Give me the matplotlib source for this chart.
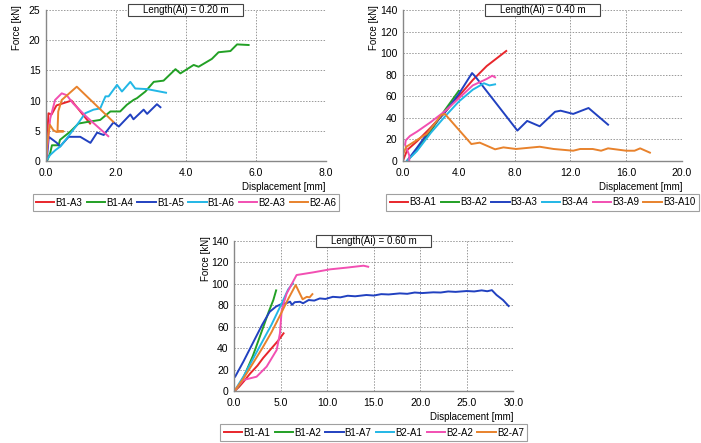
"""
Force-displacement curves for three anchor lengths
"""

import matplotlib.pyplot as plt
from matplotlib.patches import Rectangle

plt.rcParams['font.family'] = ['Liberation Sans', 'DejaVu Sans']

colors = ['#e8262b', '#22a025', '#2141c0', '#22b7e6', '#f24fb2', '#e8822c']

# ---- Length(Ai) = 0.20 m ----
a_names = ['B1-A3', 'B1-A4', 'B1-A5', 'B1-A6', 'B2-A3', 'B2-A6']
a_x = [
    [0.0, 0.07, 0.16, 0.30, 0.73, 1.26],
    [0.03, 0.12, 0.17, 0.36, 0.40, 0.70, 0.93, 1.22, 1.55, 1.84, 2.12, 2.31, 2.50, 2.60, 2.84,
     3.08, 3.36, 3.70, 3.84, 4.22, 4.36, 4.74, 4.93, 5.27, 5.46, 5.79],
    [0.02, 0.08, 0.31, 0.40, 0.65, 0.98, 1.27, 1.46, 1.65, 1.93, 2.08, 2.41, 2.50, 2.79, 2.89,
     3.17, 3.27],
    [0.0, 0.12, 0.27, 0.41, 0.60, 0.89, 1.12, 1.36, 1.55, 1.70, 1.79, 2.03, 2.17, 2.41, 2.55,
     2.89, 3.43],
    [0.0, 0.12, 0.26, 0.45, 0.59, 0.78, 1.16, 1.78],
    [0.0, 0.04, 0.11, 0.21, 0.30, 0.50, 0.33, 0.35, 0.45, 0.88, 1.92],
]
a_y = [
    [0.0, 7.9, 7.7, 9.2, 10.0, 6.2],
    [0.0, 1.3, 2.6, 2.6, 3.5, 4.9, 6.2, 6.5, 6.8, 8.2, 8.2, 9.3, 10.1, 10.4, 11.5,
     13.1, 13.3, 15.2, 14.5, 15.9, 15.6, 16.9, 18.0, 18.2, 19.3, 19.2],
    [0.0, 4.0, 3.0, 2.4, 4.0, 4.0, 3.0, 4.7, 4.3, 6.4, 5.7, 7.7, 6.9, 8.5, 7.8,
     9.4, 8.9],
    [0.0, 1.0, 1.8, 2.4, 3.8, 6.0, 7.9, 8.5, 8.7, 10.7, 10.7, 12.6, 11.5, 13.1, 12.0,
     11.9, 11.3],
    [0.0, 7.0, 10.1, 11.2, 10.9, 9.5, 7.3, 4.1],
    [0.0, 3.2, 6.0, 5.1, 4.8, 4.9, 5.0, 8.2, 10.1, 12.3, 6.5],
]

# ---- Length(Ai) = 0.40 m ----
b_names = ['B3-A1', 'B3-A2', 'B3-A3', 'B3-A4', 'B3-A9', 'B3-A10']
b_x = [
    [0.0, 0.3, 1.0, 2.0, 3.0, 4.0, 5.0, 6.0, 7.4],
    [0.3, 1.0, 2.0, 3.0, 4.0],
    [0.3, 1.0, 2.0, 3.0, 4.0, 4.95, 5.2, 8.2, 8.9, 9.8, 10.9, 11.3, 12.2, 13.3, 14.7],
    [0.3, 1.0, 2.0, 3.0, 4.0, 5.0, 5.8, 6.2, 6.6],
    [0.45, 0.45, 0.15, 0.2, 0.5, 1.0, 2.0, 3.0, 4.0, 5.0, 6.0, 6.4, 6.6],
    [0.0, 0.24, 1.7, 2.75, 3.0, 4.9, 5.5, 6.6, 7.2, 8.1, 9.8, 10.8, 12.2, 12.7, 13.6,
     14.2, 14.7, 16.0, 16.6, 17.0, 17.7],
]
b_y = [
    [0.0, 10.0, 18.0, 31.0, 45.0, 60.0, 75.0, 88.0, 102.0],
    [0.0, 10.0, 28.0, 47.0, 65.0],
    [0.0, 12.0, 30.0, 45.0, 62.0, 81.5, 78.0, 28.0, 37.0, 32.0, 45.5, 46.5, 43.5, 49.0, 33.5],
    [0.0, 9.0, 26.0, 41.0, 55.0, 66.0, 72.0, 70.0, 71.0],
    [0.0, 5.0, 15.0, 19.0, 23.0, 27.0, 36.0, 46.0, 58.0, 70.0, 76.0, 79.0, 77.5],
    [6.0, 13.0, 25.0, 42.5, 43.5, 15.5, 16.8, 10.6, 12.4, 10.9, 13.0, 10.9, 9.3, 10.9, 10.9,
     9.3, 11.5, 9.3, 9.3, 11.5, 7.5],
]

# ---- Length(Ai) = 0.60 m ----
c_names = ['B1-A1', 'B1-A2', 'B1-A7', 'B2-A1', 'B2-A2', 'B2-A7']
c_x = [
    [0.0, 0.5, 1.0, 1.7, 2.5, 3.1, 4.0, 4.7, 5.3],
    [0.0, 0.5, 1.0, 2.0, 3.0, 3.7, 4.2, 4.5],
    [0.1, 1.0, 2.0, 3.0, 3.8, 4.5, 5.0, 5.6, 6.0, 6.2, 6.5, 7.06, 7.4, 8.0, 8.6, 9.2, 9.8,
     10.6, 11.4, 12.2, 13.0, 14.2, 15.0, 15.8, 16.6, 17.8, 18.6, 19.4, 20.2, 21.4, 22.2,
     23.0, 23.8, 25.0, 25.8, 26.6, 27.2, 27.7, 28.2, 28.9, 29.5],
    [0.0, 1.0, 2.0, 3.0, 4.0, 5.0, 5.8, 6.3],
    [0.0, 0.97, 2.4, 3.48, 4.56, 4.91, 5.1, 5.63, 6.7, 8.5, 10.3, 12.1, 13.9, 14.4],
    [0.0, 1.0, 2.0, 3.0, 4.0, 5.0, 5.8, 6.6, 7.35, 7.8, 8.1, 8.4],
]
c_y = [
    [0.0, 4.0, 9.0, 16.5, 24.0, 31.0, 40.0, 47.0, 54.0],
    [0.0, 5.0, 13.0, 33.0, 57.0, 74.0, 85.0, 94.0],
    [13.7, 28.0, 45.0, 62.0, 74.0, 79.0, 81.0, 82.0, 83.5, 80.5, 83.0, 83.4, 82.0, 85.0, 84.5,
     86.5, 86.0, 88.0, 87.5, 89.0, 88.5, 89.7, 89.2, 90.5, 90.2, 91.2, 90.8, 92.0, 91.5,
     92.2, 92.0, 93.0, 92.6, 93.4, 93.0, 94.0, 93.2, 94.2, 89.7, 85.0, 79.4],
    [0.0, 14.0, 30.0, 46.0, 62.0, 80.0, 95.0, 100.5],
    [0.0, 10.5, 13.6, 23.0, 38.5, 54.0, 75.7, 91.0, 108.3, 110.8, 113.6, 115.2, 117.0, 116.0],
    [0.0, 12.0, 26.0, 40.0, 55.0, 72.0, 86.0, 99.0, 85.7, 88.0, 87.5, 90.5],
]

panels = [
    ([0.0656, 0.6366, 0.3994, 0.3409], a_names, a_x, a_y, 'Length(Ai) = 0.20 m',
     (0, 8), [0, 2, 4, 6, 8], (0, 25), [0, 5, 10, 15, 20, 25]),
    ([0.5749, 0.6372, 0.3980, 0.3400], b_names, b_x, b_y, 'Length(Ai) = 0.40 m',
     (0, 20), [0, 4, 8, 12, 16, 20], (0, 140), list(range(0, 141, 20))),
    ([0.3342, 0.1167, 0.3980, 0.3393], c_names, c_x, c_y, 'Length(Ai) = 0.60 m',
     (0, 30), [0, 5, 10, 15, 20, 25, 30], (0, 140), list(range(0, 141, 20))),
]

fs = 7

fig = plt.figure(figsize=(7.01, 4.43), dpi=100)

for rect, names, xs, ys, title, xlim, xticks, ylim, yticks in panels:
    ax = fig.add_axes(rect)
    for name, x, y, c in zip(names, xs, ys, colors):
        ax.plot(x, y, color=c, lw=1.4, label=name)
    ax.set_xlim(*xlim)
    ax.set_ylim(*ylim)
    ax.set_xticks(xticks)
    ax.set_xticklabels([f'{t:.1f}' for t in xticks])
    ax.set_yticks(yticks)
    ax.tick_params(labelsize=7.5, length=0)
    ax.tick_params(axis='x', pad=5)
    ax.tick_params(axis='y', pad=4)
    ax.grid(True, color='#999999', ls=(0, (1.5, 1.5)), lw=0.7)
    for s in ['top', 'right']:
        ax.spines[s].set_visible(False)
    for s in ['left', 'bottom']:
        ax.spines[s].set_color('#888888')
        ax.spines[s].set_linewidth(1.0)
    ax.set_xlabel('Displacement [mm]', fontsize=fs, loc='right', labelpad=3)
    ax.set_ylabel('Force [kN]', fontsize=fs, loc='top')
    ax.yaxis.set_label_coords(-0.085, 1.03)

    # boxed title sitting on the top gridline
    bw = 115 / (rect[2] * 701)
    bh = 12 / (rect[3] * 443)
    ax.add_patch(Rectangle((0.5 - bw / 2, 1.0 - bh / 2), bw, bh, transform=ax.transAxes,
                           fc='white', ec='#444444', lw=0.8, clip_on=False, zorder=5))
    ax.text(0.5, 1.0, title, transform=ax.transAxes, ha='center', va='center',
            fontsize=fs, zorder=6)

    leg = ax.legend(loc='center', bbox_to_anchor=(0.5, -0.275), ncol=6, fontsize=fs,
                    frameon=True, fancybox=False, handlelength=1.9, handletextpad=0.1,
                    columnspacing=0.45, borderpad=0.35, borderaxespad=0)
    leg.get_frame().set_edgecolor('#888888')
    leg.get_frame().set_linewidth(0.8)

plt.savefig('out.png', dpi=100)
